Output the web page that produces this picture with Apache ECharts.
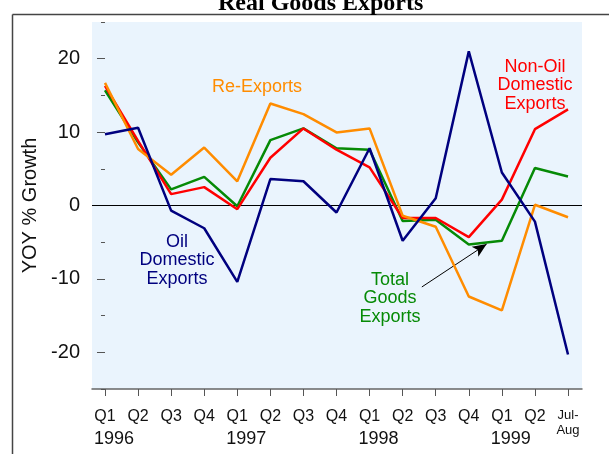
<!DOCTYPE html>
<html>
<head>
<meta charset="utf-8">
<script src="https://cdn.jsdelivr.net/npm/echarts@6/dist/echarts.min.js"></script>
<style>
  html, body { margin: 0; padding: 0; background: #fff; }
  #box { width: 609px; height: 454px; }
</style>
</head>
<body>
<div id="box"></div>
<script>
// x-axis labels
var quarters = ["Q1", "Q2", "Q3", "Q4", "Q1", "Q2", "Q3", "Q4", "Q1", "Q2", "Q3", "Q4", "Q1", "Q2", "Jul-Aug"];
var years = ["1996", "1997", "1998", "1999"];
var yearStart = [0, 4, 8, 12];

// YOY % growth
var oilDomestic = [9.7, 10.6, -0.7, -3.1, -10.4, 3.6, 3.3, -0.95, 7.8, -4.8, 1.0, 21.0, 4.5, -2.2, -20.3];
var nonOilDomestic = [16.3, 8.8, 1.55, 2.5, -0.5, 6.5, 10.5, 7.6, 5.2, -1.7, -1.7, -4.3, 0.8, 10.4, 13.1];
var totalGoods = [15.7, 8.6, 2.2, 3.9, -0.1, 8.9, 10.5, 7.8, 7.6, -2.1, -1.95, -5.3, -4.8, 5.1, 3.95];
var reExports = [16.7, 7.7, 4.2, 7.9, 3.3, 13.9, 12.45, 9.95, 10.5, -1.4, -2.9, -12.4, -14.3, 0.1, -1.6];

// y ticks
var yLabelTicks = [-20, -10, 0, 10, 20];

var idx = quarters.map(function (q, i) { return i; });
// year labels sit a little right of their Q1 tick
var yearPos = yearStart.map(function (i) { return i + 0.27; });

function pairs(arr) {
  return arr.map(function (v, i) { return [i, v]; });
}

var chart = echarts.init(document.getElementById("box"));

function lineSeries(name, data, color, z) {
  return {
    name: name,
    type: "line",
    data: pairs(data),
    showSymbol: false,
    symbol: "none",
    z: z,
    lineStyle: { color: color, width: 2.5 },
    itemStyle: { color: color },
  };
}

var annoFont = "Liberation Sans, Arial, sans-serif";

var option = {
  animation: false,
  title: {
    text: "Real Goods Exports",
    left: 213,
    top: -13,
    textStyle: {
      fontFamily: "Liberation Serif, Times New Roman, serif",
      fontSize: 24,
      fontWeight: "bold",
      color: "#000",
    },
  },
  grid: {
    left: 92,
    right: 27,
    top: 22,
    bottom: 65,
    show: true,
    backgroundColor: "#eaf4fd",
    borderWidth: 0,
  },
  xAxis: [
    {
      type: "value",
      min: -0.393,
      max: 14.423,
      splitLine: { show: false },
      axisLine: { show: true, onZero: false, lineStyle: { color: "#666", width: 1.5 } },
      axisTick: { show: true, customValues: idx, length: 7, lineStyle: { color: "#555" } },
      axisLabel: {
        customValues: idx,
        showMinLabel: true,
        showMaxLabel: true,
        margin: 19,
        color: "#111",
        fontFamily: annoFont,
        fontSize: 16,
        lineHeight: 18,
        formatter: function (v) {
          var i = Math.round(v);
          if (i === 14) return "{s|Jul-}\n{s|Aug}";
          return quarters[i];
        },
        rich: {
          s: { fontSize: 13, lineHeight: 15, color: "#111", fontFamily: annoFont },
        },
      },
    },
    {
      type: "value",
      min: -0.393,
      max: 14.423,
      position: "bottom",
      splitLine: { show: false },
      axisLine: { show: false, onZero: false },
      axisTick: { show: false },
      axisLabel: {
        customValues: yearPos,
        showMinLabel: true,
        margin: 40,
        color: "#111",
        fontFamily: annoFont,
        fontSize: 18,
        lineHeight: 20,
        formatter: function (v) {
          return years[yearStart.indexOf(Math.round(v - 0.27))] || "";
        },
      },
    },
  ],
  yAxis: [
    {
      type: "value",
      min: -25,
      max: 25,
      interval: 5,
      name: "YOY % Growth",
      nameLocation: "middle",
      nameGap: 40,
      nameRotate: 90,
      nameTextStyle: { fontSize: 20, color: "#111", fontFamily: annoFont },
      splitLine: { show: false },
      axisLine: { show: false },
      axisTick: { show: true, length: 4, lineStyle: { color: "#555" } },
      axisLabel: {
        margin: 12,
        fontSize: 20,
        color: "#111",
        fontFamily: annoFont,
        formatter: function (v) { return v % 10 === 0 ? String(v) : ""; },
      },
    },
    {
      type: "value",
      min: -25,
      max: 25,
      interval: 5,
      position: "left",
      splitLine: { show: false },
      axisLine: { show: false },
      axisTick: { show: true, customValues: yLabelTicks, length: 8, lineStyle: { color: "#555" } },
      axisLabel: { show: false },
    },
  ],
  series: [
    Object.assign(lineSeries("Total Goods Exports", totalGoods, "#068a06", 3), {
      markLine: {
        silent: true,
        symbol: ["none", "arrow"],
        symbolSize: [9, 14],
        label: { show: false },
        lineStyle: { color: "#000", width: 1, type: "solid" },
        data: [[{ coord: [9.58, -11.1] }, { coord: [11.54, -5.26] }]],
      },
    }),
    lineSeries("Non-Oil Domestic Exports", nonOilDomestic, "#ff0000", 4),
    lineSeries("Re-Exports", reExports, "#ff8c00", 5),
    Object.assign(lineSeries("Oil Domestic Exports", oilDomestic, "#00007f", 6), {
      markLine: {
        silent: true,
        symbol: "none",
        label: { show: false },
        z: 1,
        lineStyle: { color: "#000", width: 1, type: "solid" },
        data: [{ yAxis: 0 }],
      },
    }),
  ],
  graphic: [
    // outer frame
    { type: "line", shape: { x1: 12.5, y1: 14.5, x2: 609, y2: 14.5 }, style: { stroke: "#444", lineWidth: 1.5 } },
    { type: "line", shape: { x1: 12.5, y1: 14.5, x2: 12.5, y2: 454 }, style: { stroke: "#444", lineWidth: 1.5 } },
    // series labels
    {
      type: "text", x: 257, y: 87, z: 10,
      style: { text: "Re-Exports", fill: "#ff8c00", fontSize: 18, fontFamily: annoFont, align: "center", verticalAlign: "middle" },
    },
    {
      type: "text", x: 535, y: 85.5, z: 10,
      style: { text: "Non-Oil\nDomestic\nExports", fill: "#ff0000", fontSize: 18, lineHeight: 18.5, fontFamily: annoFont, align: "center", verticalAlign: "middle" },
    },
    {
      type: "text", x: 177, y: 260.5, z: 10,
      style: { text: "Oil\nDomestic\nExports", fill: "#00007f", fontSize: 18, lineHeight: 18.7, fontFamily: annoFont, align: "center", verticalAlign: "middle" },
    },
    {
      type: "text", x: 390, y: 298.5, z: 10,
      style: { text: "Total\nGoods\nExports", fill: "#068a06", fontSize: 18, lineHeight: 18.5, fontFamily: annoFont, align: "center", verticalAlign: "middle" },
    },
  ],
};

chart.setOption(option);
</script>
</body>
</html>
